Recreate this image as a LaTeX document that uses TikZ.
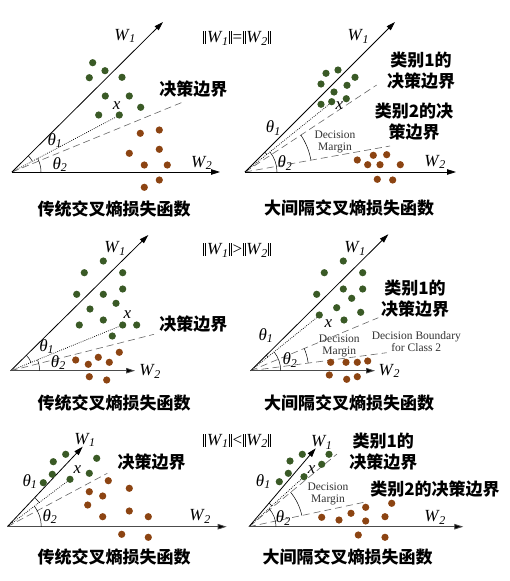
\documentclass[tikz,border=0pt]{standalone}
\usepackage{fontspec}
\setmainfont{Liberation Serif}
\newfontfamily\cjk{Noto Sans CJK SC}
\usetikzlibrary{arrows.meta,angles,calc}
\definecolor{gr}{RGB}{58,90,38}
\definecolor{br}{RGB}{140,68,18}
\newcommand\WA{\textit{W}\textsubscript{\kern-0.5pt\textit{1}}}
\newcommand\WB{\textit{W}\textsubscript{\kern-0.5pt\textit{2}}}
\newcommand\thA{\textit{θ}\textsubscript{\textit{1}}}
\newcommand\thB{\textit{θ}\textsubscript{\textit{2}}}
\newcommand\dbar{\kern0.5pt\rule[-1.5pt]{1pt}{13pt}\kern0.9pt\rule[-1.5pt]{1pt}{13pt}\kern0.8pt}
\newcommand\nrm[1]{\dbar#1\dbar}
\tikzset{
  ax/.style={line width=0.8pt, -{Triangle[length=9pt,width=5.5pt]}},
  axg/.style={ax, draw=black!70, -{Triangle[length=9pt,width=5.5pt,fill=black]}},
  bnd/.style={draw=black!60, line width=0.6pt, dash pattern=on 7pt off 4pt},
  dotl/.style={line width=0.7pt, dash pattern=on 0.8pt off 1.3pt},
  ang/.style={draw, line width=0.5pt},
  cn/.style={font=\cjk\bfseries\fontsize{17}{21}\selectfont, inner sep=0pt, align=center},
  lab/.style={font=\fontsize{17}{20}\selectfont, inner sep=0pt},
  sm/.style={font=\fontsize{11.5}{13}\selectfont, text=black!80, inner sep=0pt, align=center},
}
\begin{document}
\begin{tikzpicture}[x=1pt,y=1pt]
\useasboundingbox[fill=white] (0,0) rectangle (510,-581);

% ================= Panel 1 =================
\coordinate (O1) at (12,-172);
\coordinate (A1) at (163,-22);
\coordinate (B1) at (220,-172);
\coordinate (D1) at (183,-102);
\coordinate (X1) at (119.3,-115.3);
\draw[bnd] (O1) -- (D1);
\draw[dotl] (O1) -- (X1);
\draw[ax] (O1) -- (A1);
\draw[ax] (O1) -- (B1);
\pic[ang, angle radius=23pt] {angle = X1--O1--A1};
\pic[ang, angle radius=29pt] {angle = B1--O1--X1};
\foreach \x/\y in {92.7/62.7,105/70.7,89.3/77.7,122/77.3,105.3/96,129.3/96,140.7/107.3,98.7/115,119.3/115}
  \fill[gr] (\x,-\y) circle (3.6pt);
\foreach \x/\y in {140.3/133.3,159.3/130,159.3/149.3,129.3/153.3,144.3/165,167.3/165,159.3/180,144.3/187.3}
  \fill[br] (\x,-\y) circle (3.6pt);
\node[lab] (w1a) at (125,-36) {\WA};
\node[lab] (w2a) at (201.7,-163) {\WB};
\node[lab] (xa) at (116.7,-105.5) {\textit{x}};
\node[lab] (t1a) at (55,-140.5) {\thA};
\node[lab] (t2a) at (60,-164.5) {\thB};
\node[cn] (da) at (193.3,-89.5) {决策边界};
\node[cn] (ta) at (114,-209) {传统交叉熵损失函数};
\node[lab] (na) at (237.5,-38) {\nrm{\WA}=\nrm{\WB}};

% ================= Panel 2 =================
\coordinate (O2) at (245,-172);
\coordinate (A2) at (395,-22);
\coordinate (B2) at (456,-172);
\coordinate (C2a) at (376.7,-85);
\coordinate (C2b) at (390,-146);
\coordinate (X2) at (332,-102);
\draw[bnd] (O2) -- (C2a);
\draw[bnd] (O2) -- (C2b);
\draw[dotl] (O2) -- (X2);
\draw[ax] (O2) -- (A2);
\draw[ax] (O2) -- (B2);
\pic[ang, angle radius=28pt] {angle = X2--O2--A2};
\pic[ang, angle radius=32pt] {angle = B2--O2--X2};
\pic[ang, angle radius=67pt] {angle = C2b--O2--C2a};
\foreach \x/\y in {326/73.3,338/70,355/77.3,321/84,334/92,347/85.3,321/104.3,331.7/101.7,346.3/98.7}
  \fill[gr] (\x,-\y) circle (3.6pt);
\foreach \x/\y in {357.3/160,373.3/155.3,386.7/154.7,367.7/164.7,380/164.7,400.3/164.7,377.3/179.3,392.7/180}
  \fill[br] (\x,-\y) circle (3.6pt);
\node[lab] (w1b) at (358.3,-36.7) {\WA};
\node[lab] (w2b) at (435,-162) {\WB};
\node[lab] (xb) at (339.3,-106) {\textit{x}};
\node[lab] (t1b) at (273.3,-128.3) {\thA};
\node[lab] (t2b) at (285,-163.3) {\thB};
\node[sm] (mb) at (335,-141.7) {Decision\\[-1pt]Margin};
\node[cn] (c1b) at (421,-71) {类别1的\\决策边界};
\node[cn] (c2b) at (414,-121.5) {类别2的决\\策边界};
\node[cn] (tb) at (349,-208) {大间隔交叉熵损失函数};

% ================= Panel 3 =================
\coordinate (O3) at (10.7,-370.7);
\coordinate (A3) at (148.3,-235);
\coordinate (B3) at (135,-370.7);
\coordinate (D3) at (154,-334.3);
\coordinate (X3) at (122.7,-325);
\draw[bnd] (O3) -- (D3);
\draw[dotl] (O3) -- (X3);
\draw[ax] (O3) -- (A3);
\draw[axg] (O3) -- (B3);
\pic[ang, angle radius=22pt] {angle = X3--O3--A3};
\pic[ang, angle radius=29pt] {angle = B3--O3--X3};
\foreach \x/\y in {103.3/261,84.3/272.7,122.7/272.7,76.7/294.3,103.3/294.3,122.7/289,116/303.3,90/309,79.3/325,103.3/320,122.7/325,136.7/325,112.3/336}
  \fill[gr] (\x,-\y) circle (3.6pt);
\foreach \x/\y in {75.7/360,88.3/364.3,98.3/357.3,109.3/362.3,119.3/352.3,89.3/376.7,106.7/380}
  \fill[br] (\x,-\y) circle (3.6pt);
\node[lab] (w1c) at (115,-248.3) {\WA};
\node[lab] (w2c) at (150,-371.7) {\WB};
\node[lab] (xc) at (127.3,-314.3) {\textit{x}};
\node[lab] (t1c) at (46.7,-346.7) {\thA};
\node[lab] (t2c) at (58.3,-362.7) {\thB};
\node[cn] (dc) at (193.3,-324.3) {决策边界};
\node[cn] (tc) at (114,-403.3) {传统交叉熵损失函数};
\node[lab] (nc) at (237.5,-250) {\nrm{\WA}>\nrm{\WB}};

% ================= Panel 4 =================
\coordinate (O4) at (250.7,-370.7);
\coordinate (A4) at (388.3,-234.3);
\coordinate (B4) at (375,-370.7);
\coordinate (C4a) at (378.3,-317.7);
\coordinate (C4b) at (386.7,-352.7);
\coordinate (X4) at (320,-315);
\draw[bnd] (O4) -- (C4a);
\draw[bnd] (O4) -- (C4b);
\draw[dotl] (O4) -- (X4);
\draw[ax] (O4) -- (A4);
\draw[axg] (O4) -- (B4);
\pic[ang, angle radius=22pt] {angle = X4--O4--A4};
\pic[ang, angle radius=30pt] {angle = B4--O4--X4};
\pic[ang, angle radius=58pt] {angle = C4b--O4--C4a};
\foreach \x/\y in {343.3/261,324.3/272.7,362.7/272.7,316.7/294.3,343.3/289,362.7/289,351.7/298.3,336.7/307.7,360.7/312.3,319.3/315,344/320}
  \fill[gr] (\x,-\y) circle (3.6pt);
\foreach \x/\y in {330.7/362.3,346/362.3,357.3/362.3,367.7/361,329.3/375,346.7/379.3,357.3/376.7}
  \fill[br] (\x,-\y) circle (3.6pt);
\node[lab] (w1d) at (355,-248.3) {\WA};
\node[lab] (w2d) at (389.3,-371) {\WB};
\node[lab] (xd) at (328.3,-323.3) {\textit{x}};
\node[lab] (t1d) at (266,-335.7) {\thA};
\node[lab] (t2d) at (290,-360) {\thB};
\node[sm] (md) at (339.3,-346.2) {Decision\\[-1pt]Margin};
\node[sm] (bd) at (416.3,-341.7) {Decision Boundary\\[-1pt]for Class 2};
\node[cn] (c1d) at (415,-298.3) {类别1的\\决策边界};
\node[cn] (td) at (349,-403.3) {大间隔交叉熵损失函数};

% ================= Panel 5 =================
\coordinate (O5) at (7.3,-526.7);
\coordinate (A5) at (82.7,-446.7);
\coordinate (B5) at (226.7,-526.7);
\coordinate (D5) at (107.3,-473.3);
\coordinate (X5) at (70,-479.3);
\draw[bnd] (O5) -- (D5);
\draw[dotl] (O5) -- (X5);
\draw[ax] (O5) -- (A5);
\draw[axg] (O5) -- (B5);
\pic[ang, angle radius=40pt] {angle = X5--O5--A5};
\pic[ang, angle radius=34pt] {angle = B5--O5--X5};
\foreach \x/\y in {65.7/454.3,53.3/461.7,96.7/458.3,52.3/474.3,43.3/482.7,70/479.3,89.3/473.3}
  \fill[gr] (\x,-\y) circle (3.6pt);
\foreach \x/\y in {108.3/480.7,129.3/488.3,89.3/491.7,102.7/496,87.7/505,129.3/511,102.7/516.7,148.3/516.7,121.7/534.3,148.3/537.3}
  \fill[br] (\x,-\y) circle (3.6pt);
\node[lab] (w1e) at (85,-440) {\WA};
\node[lab] (w2e) at (200,-516.7) {\WB};
\node[lab] (xe) at (77.3,-470) {\textit{x}};
\node[lab] (t1e) at (30,-481.7) {\thA};
\node[lab] (t2e) at (50,-516.7) {\thB};
\node[cn] (de) at (151.7,-461.7) {决策边界};
\node[cn] (te) at (114,-557.3) {传统交叉熵损失函数};
\node[lab] (ne) at (237.5,-440.7) {\nrm{\WA}<\nrm{\WB}};

% ================= Panel 6 =================
\coordinate (O6) at (249,-526.7);
\coordinate (A6) at (315.7,-448.3);
\coordinate (B6) at (463.3,-526.7);
\coordinate (C6a) at (337,-454);
\coordinate (C6b) at (366.7,-501.7);
\coordinate (X6) at (304,-476.7);
\draw[bnd] (O6) -- (C6a);
\draw[bnd] (O6) -- (C6b);
\draw[dotl] (O6) -- (X6);
\draw[ax] (O6) -- (A6);
\draw[axg] (O6) -- (B6);
\pic[ang, angle radius=31pt] {angle = X6--O6--A6};
\pic[ang, angle radius=27pt] {angle = B6--O6--X6};
\pic[ang, angle radius=54pt] {angle = C6b--O6--C6a};
\foreach \x/\y in {302.3/454.3,290/461,329/454.3,321.7/464.3,288.3/473.3,304/476.7,279.3/481.7}
  \fill[gr] (\x,-\y) circle (3.6pt);
\foreach \x/\y in {321.7/517.3,339/520,351/513.3,365.7/507.3,365.7/521,391.7/503.3,385/516.7,358.3/535,385/537.3}
  \fill[br] (\x,-\y) circle (3.6pt);
\node[lab] (w1f) at (321.7,-442.7) {\WA};
\node[lab] (w2f) at (435,-517.3) {\WB};
\node[lab] (xf) at (311.7,-470) {\textit{x}};
\node[lab] (t1f) at (263.3,-481.7) {\thA};
\node[lab] (t2f) at (283.3,-518.3) {\thB};
\node[sm] (mf) at (328,-494.2) {Decision\\[-1pt]Margin};
\node[cn] (c1f) at (383.3,-451.7) {类别1的\\决策边界};
\node[cn] (c2f) at (435,-489.3) {类别2的决策边界};
\node[cn] (tf) at (347.5,-556.7) {大间隔交叉熵损失函数};
\end{tikzpicture}
\end{document}
